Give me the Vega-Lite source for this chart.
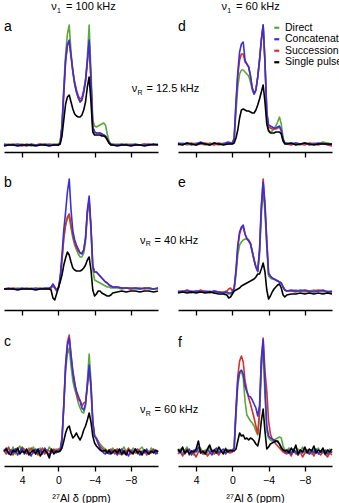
{
  "$schema": "https://vega.github.io/schema/vega-lite/v6.json",
  "padding": {"left": 3, "top": 1, "right": 0, "bottom": 0},
  "config": {
    "font": "Liberation Sans",
    "view": {"stroke": null},
    "legend": {
      "orient": "none", "legendX": 267.5, "legendY": 2.5, "padding": 0,
      "symbolType": "stroke", "symbolSize": 25, "symbolStrokeWidth": 2.2,
      "labelFontSize": 10.5, "labelColor": "#000", "labelOffset": 3, "rowPadding": 0.5
    }
  },
  "data": {"values": [
    {"p":"a","ppm":6,"D":7,"C":8,"S":7,"P":6},{"p":"a","ppm":5.5,"D":8,"C":7,"S":7,"P":7},{"p":"a","ppm":5,"D":7,"C":7,"S":8,"P":7},{"p":"a","ppm":4.5,"D":7,"C":8,"S":7,"P":6},{"p":"a","ppm":4,"D":8,"C":7,"S":6,"P":7},{"p":"a","ppm":3.5,"D":7,"C":6,"S":8,"P":7},{"p":"a","ppm":3,"D":6,"C":8,"S":7,"P":7},{"p":"a","ppm":2.5,"D":7,"C":7,"S":7,"P":6},{"p":"a","ppm":2,"D":8,"C":7,"S":8,"P":7},{"p":"a","ppm":1.5,"D":7,"C":8,"S":7,"P":7},{"p":"a","ppm":1,"D":7,"C":7,"S":8,"P":6},{"p":"a","ppm":0.5,"D":8,"C":7,"S":7,"P":7},
    {"p":"a","ppm":0,"D":8,"C":7,"S":7,"P":7},{"p":"a","ppm":-0.2,"D":10,"C":9,"S":9,"P":8},{"p":"a","ppm":-0.4,"D":28,"C":25,"S":25,"P":16},{"p":"a","ppm":-0.6,"D":65,"C":60,"S":58,"P":32},{"p":"a","ppm":-0.8,"D":98,"C":92,"S":90,"P":48},{"p":"a","ppm":-1,"D":118,"C":108,"S":106,"P":55},{"p":"a","ppm":-1.2,"D":127,"C":112,"S":110,"P":57},{"p":"a","ppm":-1.4,"D":100,"C":96,"S":96,"P":50},{"p":"a","ppm":-1.6,"D":80,"C":80,"S":82,"P":43},{"p":"a","ppm":-1.8,"D":68,"C":68,"S":70,"P":38},{"p":"a","ppm":-2,"D":60,"C":60,"S":62,"P":36},{"p":"a","ppm":-2.2,"D":54,"C":54,"S":56,"P":35},{"p":"a","ppm":-2.4,"D":50,"C":50,"S":53,"P":35},{"p":"a","ppm":-2.6,"D":52,"C":52,"S":54,"P":37},{"p":"a","ppm":-2.8,"D":60,"C":60,"S":62,"P":42},{"p":"a","ppm":-3,"D":72,"C":70,"S":72,"P":50},{"p":"a","ppm":-3.2,"D":95,"C":90,"S":90,"P":65},{"p":"a","ppm":-3.4,"D":127,"C":112,"S":110,"P":75},{"p":"a","ppm":-3.6,"D":80,"C":72,"S":72,"P":50},{"p":"a","ppm":-3.8,"D":32,"C":25,"S":25,"P":20},{"p":"a","ppm":-4,"D":26,"C":20,"S":20,"P":17},{"p":"a","ppm":-4.2,"D":25,"C":19,"S":19,"P":17},{"p":"a","ppm":-4.4,"D":26,"C":19,"S":19,"P":17},{"p":"a","ppm":-4.6,"D":27,"C":19,"S":19,"P":17},{"p":"a","ppm":-4.8,"D":28,"C":18,"S":18,"P":16},{"p":"a","ppm":-5,"D":29,"C":17,"S":17,"P":16},{"p":"a","ppm":-5.2,"D":27,"C":16,"S":16,"P":15},{"p":"a","ppm":-5.4,"D":18,"C":13,"S":13,"P":12},{"p":"a","ppm":-5.6,"D":11,"C":9,"S":9,"P":9},{"p":"a","ppm":-5.8,"D":8,"C":8,"S":7,"P":7},
    {"p":"a","ppm":-6,"D":7,"C":7,"S":8,"P":7},{"p":"a","ppm":-6.5,"D":8,"C":7,"S":7,"P":6},{"p":"a","ppm":-7,"D":7,"C":8,"S":7,"P":7},{"p":"a","ppm":-7.5,"D":7,"C":7,"S":8,"P":7},{"p":"a","ppm":-8,"D":8,"C":7,"S":7,"P":6},{"p":"a","ppm":-8.5,"D":7,"C":8,"S":7,"P":7},{"p":"a","ppm":-9,"D":7,"C":7,"S":7,"P":7},{"p":"a","ppm":-9.5,"D":8,"C":7,"S":8,"P":6},{"p":"a","ppm":-10,"D":7,"C":8,"S":7,"P":7},{"p":"a","ppm":-10.5,"D":7,"C":7,"S":7,"P":8},{"p":"a","ppm":-11,"D":7,"C":8,"S":7,"P":7},

    {"p":"d","ppm":6,"D":8,"C":9,"S":7,"P":8},{"p":"d","ppm":5.5,"D":9,"C":8,"S":8,"P":7},{"p":"d","ppm":5,"D":7,"C":9,"S":8,"P":9},{"p":"d","ppm":4.5,"D":8,"C":7,"S":9,"P":8},{"p":"d","ppm":4,"D":9,"C":8,"S":7,"P":7},{"p":"d","ppm":3.5,"D":8,"C":10,"S":8,"P":9},{"p":"d","ppm":3,"D":7,"C":8,"S":9,"P":8},{"p":"d","ppm":2.5,"D":9,"C":7,"S":8,"P":7},{"p":"d","ppm":2,"D":8,"C":9,"S":7,"P":9},{"p":"d","ppm":1.5,"D":7,"C":8,"S":9,"P":8},{"p":"d","ppm":1,"D":9,"C":8,"S":8,"P":7},{"p":"d","ppm":0.5,"D":8,"C":10,"S":9,"P":8},
    {"p":"d","ppm":0,"D":8,"C":9,"S":9,"P":8},{"p":"d","ppm":-0.2,"D":12,"C":14,"S":13,"P":9},{"p":"d","ppm":-0.4,"D":40,"C":50,"S":48,"P":14},{"p":"d","ppm":-0.6,"D":65,"C":80,"S":76,"P":22},{"p":"d","ppm":-0.8,"D":78,"C":100,"S":92,"P":34},{"p":"d","ppm":-1,"D":82,"C":108,"S":98,"P":42},{"p":"d","ppm":-1.2,"D":82,"C":110,"S":98,"P":43},{"p":"d","ppm":-1.4,"D":80,"C":92,"S":90,"P":42},{"p":"d","ppm":-1.6,"D":78,"C":88,"S":88,"P":41},{"p":"d","ppm":-1.8,"D":76,"C":85,"S":85,"P":41},{"p":"d","ppm":-2,"D":70,"C":76,"S":76,"P":40},{"p":"d","ppm":-2.2,"D":62,"C":64,"S":64,"P":39},{"p":"d","ppm":-2.4,"D":58,"C":58,"S":58,"P":39},{"p":"d","ppm":-2.6,"D":62,"C":62,"S":62,"P":42},{"p":"d","ppm":-2.8,"D":75,"C":75,"S":75,"P":47},{"p":"d","ppm":-3,"D":92,"C":92,"S":92,"P":53},{"p":"d","ppm":-3.2,"D":112,"C":112,"S":112,"P":60},{"p":"d","ppm":-3.4,"D":127,"C":127,"S":127,"P":67},{"p":"d","ppm":-3.6,"D":90,"C":90,"S":90,"P":50},{"p":"d","ppm":-3.8,"D":40,"C":40,"S":40,"P":28},{"p":"d","ppm":-4,"D":22,"C":27,"S":25,"P":21},{"p":"d","ppm":-4.2,"D":20,"C":26,"S":24,"P":19},{"p":"d","ppm":-4.4,"D":21,"C":25,"S":23,"P":19},{"p":"d","ppm":-4.6,"D":23,"C":24,"S":23,"P":19},{"p":"d","ppm":-4.8,"D":26,"C":24,"S":23,"P":20},{"p":"d","ppm":-5,"D":30,"C":25,"S":24,"P":20},{"p":"d","ppm":-5.2,"D":35,"C":26,"S":25,"P":20},{"p":"d","ppm":-5.4,"D":28,"C":22,"S":21,"P":18},{"p":"d","ppm":-5.6,"D":14,"C":12,"S":12,"P":11},{"p":"d","ppm":-5.8,"D":9,"C":9,"S":9,"P":8},
    {"p":"d","ppm":-6,"D":8,"C":9,"S":8,"P":8},{"p":"d","ppm":-6.5,"D":9,"C":8,"S":7,"P":9},{"p":"d","ppm":-7,"D":8,"C":9,"S":9,"P":7},{"p":"d","ppm":-7.5,"D":7,"C":8,"S":8,"P":8},{"p":"d","ppm":-8,"D":9,"C":9,"S":7,"P":9},{"p":"d","ppm":-8.5,"D":8,"C":7,"S":9,"P":8},{"p":"d","ppm":-9,"D":9,"C":8,"S":8,"P":7},{"p":"d","ppm":-9.5,"D":8,"C":9,"S":7,"P":8},{"p":"d","ppm":-10,"D":10,"C":8,"S":9,"P":8},{"p":"d","ppm":-10.5,"D":9,"C":8,"S":7,"P":8},{"p":"d","ppm":-11,"D":8,"C":7,"S":6,"P":8},

    {"p":"b","ppm":6,"D":21,"C":21,"S":21,"P":21},{"p":"b","ppm":5.5,"D":21,"C":22,"S":21,"P":21},{"p":"b","ppm":5,"D":21,"C":21,"S":22,"P":21},{"p":"b","ppm":4.5,"D":22,"C":21,"S":21,"P":20},{"p":"b","ppm":4,"D":21,"C":22,"S":21,"P":21},{"p":"b","ppm":3.5,"D":21,"C":21,"S":22,"P":21},{"p":"b","ppm":3,"D":22,"C":21,"S":21,"P":21},{"p":"b","ppm":2.5,"D":21,"C":22,"S":21,"P":20},{"p":"b","ppm":2,"D":21,"C":21,"S":22,"P":21},{"p":"b","ppm":1.5,"D":21,"C":22,"S":21,"P":21},{"p":"b","ppm":1,"D":21,"C":22,"S":21,"P":21},{"p":"b","ppm":0.8,"D":22,"C":23,"S":22,"P":20},{"p":"b","ppm":0.6,"D":24,"C":26,"S":25,"P":12},{"p":"b","ppm":0.4,"D":22,"C":23,"S":22,"P":10},{"p":"b","ppm":0.2,"D":19,"C":20,"S":20,"P":16},
    {"p":"b","ppm":0,"D":22,"C":22,"S":22,"P":22},{"p":"b","ppm":-0.2,"D":30,"C":33,"S":31,"P":28},{"p":"b","ppm":-0.4,"D":50,"C":55,"S":50,"P":35},{"p":"b","ppm":-0.6,"D":72,"C":80,"S":72,"P":45},{"p":"b","ppm":-0.8,"D":85,"C":98,"S":85,"P":52},{"p":"b","ppm":-1,"D":92,"C":118,"S":93,"P":58},{"p":"b","ppm":-1.2,"D":93,"C":131,"S":96,"P":55},{"p":"b","ppm":-1.4,"D":82,"C":100,"S":85,"P":48},{"p":"b","ppm":-1.6,"D":72,"C":79,"S":75,"P":42},{"p":"b","ppm":-1.8,"D":65,"C":70,"S":67,"P":40},{"p":"b","ppm":-2,"D":60,"C":65,"S":62,"P":39},{"p":"b","ppm":-2.2,"D":56,"C":61,"S":59,"P":39},{"p":"b","ppm":-2.4,"D":53,"C":57,"S":57,"P":39},{"p":"b","ppm":-2.6,"D":53,"C":56,"S":57,"P":40},{"p":"b","ppm":-2.8,"D":57,"C":60,"S":60,"P":42},{"p":"b","ppm":-3,"D":68,"C":72,"S":72,"P":45},{"p":"b","ppm":-3.2,"D":95,"C":100,"S":98,"P":50},{"p":"b","ppm":-3.4,"D":108,"C":114,"S":110,"P":53},{"p":"b","ppm":-3.6,"D":80,"C":84,"S":82,"P":40},{"p":"b","ppm":-3.8,"D":40,"C":44,"S":44,"P":20},{"p":"b","ppm":-4,"D":30,"C":38,"S":38,"P":14},{"p":"b","ppm":-4.2,"D":29,"C":38,"S":38,"P":16},{"p":"b","ppm":-4.4,"D":28,"C":36,"S":36,"P":19},{"p":"b","ppm":-4.6,"D":27,"C":34,"S":34,"P":19},{"p":"b","ppm":-4.8,"D":26,"C":32,"S":32,"P":17},{"p":"b","ppm":-5,"D":25,"C":30,"S":30,"P":16},{"p":"b","ppm":-5.2,"D":24,"C":28,"S":28,"P":15},{"p":"b","ppm":-5.4,"D":23,"C":27,"S":27,"P":14},{"p":"b","ppm":-5.6,"D":23,"C":25,"S":25,"P":14},{"p":"b","ppm":-5.8,"D":22,"C":24,"S":24,"P":15},
    {"p":"b","ppm":-6,"D":22,"C":23,"S":23,"P":17},{"p":"b","ppm":-6.5,"D":22,"C":23,"S":23,"P":18},{"p":"b","ppm":-7,"D":21,"C":22,"S":22,"P":19},{"p":"b","ppm":-7.5,"D":22,"C":22,"S":22,"P":18},{"p":"b","ppm":-8,"D":21,"C":22,"S":21,"P":19},{"p":"b","ppm":-8.5,"D":21,"C":22,"S":22,"P":19},{"p":"b","ppm":-9,"D":21,"C":21,"S":22,"P":18},{"p":"b","ppm":-9.5,"D":22,"C":22,"S":21,"P":19},{"p":"b","ppm":-10,"D":21,"C":22,"S":22,"P":19},{"p":"b","ppm":-10.5,"D":21,"C":21,"S":21,"P":18},{"p":"b","ppm":-11,"D":21,"C":22,"S":22,"P":19},

    {"p":"e","ppm":6,"D":18,"C":19,"S":18,"P":17},{"p":"e","ppm":5.5,"D":19,"C":18,"S":19,"P":18},{"p":"e","ppm":5,"D":18,"C":20,"S":18,"P":17},{"p":"e","ppm":4.5,"D":17,"C":18,"S":19,"P":18},{"p":"e","ppm":4,"D":19,"C":19,"S":18,"P":17},{"p":"e","ppm":3.5,"D":18,"C":18,"S":20,"P":18},{"p":"e","ppm":3,"D":18,"C":19,"S":18,"P":17},{"p":"e","ppm":2.5,"D":19,"C":18,"S":17,"P":18},{"p":"e","ppm":2,"D":17,"C":19,"S":19,"P":17},{"p":"e","ppm":1.5,"D":18,"C":18,"S":18,"P":16},{"p":"e","ppm":1,"D":17,"C":17,"S":18,"P":16},{"p":"e","ppm":0.6,"D":17,"C":18,"S":19,"P":15},{"p":"e","ppm":0.4,"D":16,"C":17,"S":21,"P":12},{"p":"e","ppm":0.2,"D":16,"C":17,"S":22,"P":13},
    {"p":"e","ppm":0,"D":17,"C":18,"S":19,"P":16},{"p":"e","ppm":-0.2,"D":20,"C":22,"S":22,"P":19},{"p":"e","ppm":-0.4,"D":35,"C":40,"S":38,"P":20},{"p":"e","ppm":-0.6,"D":55,"C":65,"S":62,"P":21},{"p":"e","ppm":-0.8,"D":65,"C":78,"S":76,"P":22},{"p":"e","ppm":-1,"D":68,"C":83,"S":82,"P":24},{"p":"e","ppm":-1.2,"D":70,"C":85,"S":83,"P":25},{"p":"e","ppm":-1.4,"D":71,"C":76,"S":76,"P":26},{"p":"e","ppm":-1.6,"D":71,"C":71,"S":72,"P":27},{"p":"e","ppm":-1.8,"D":70,"C":69,"S":70,"P":28},{"p":"e","ppm":-2,"D":66,"C":66,"S":67,"P":29},{"p":"e","ppm":-2.2,"D":58,"C":58,"S":59,"P":30},{"p":"e","ppm":-2.4,"D":50,"C":50,"S":50,"P":31},{"p":"e","ppm":-2.6,"D":43,"C":43,"S":43,"P":33},{"p":"e","ppm":-2.8,"D":38,"C":39,"S":39,"P":36},{"p":"e","ppm":-3,"D":55,"C":60,"S":60,"P":36},{"p":"e","ppm":-3.2,"D":95,"C":102,"S":105,"P":41},{"p":"e","ppm":-3.4,"D":120,"C":128,"S":131,"P":47},{"p":"e","ppm":-3.6,"D":98,"C":104,"S":107,"P":38},{"p":"e","ppm":-3.8,"D":62,"C":68,"S":70,"P":20},{"p":"e","ppm":-4,"D":34,"C":36,"S":37,"P":11},{"p":"e","ppm":-4.2,"D":32,"C":34,"S":34,"P":14},{"p":"e","ppm":-4.4,"D":31,"C":32,"S":32,"P":18},{"p":"e","ppm":-4.6,"D":31,"C":31,"S":31,"P":21},{"p":"e","ppm":-4.8,"D":30,"C":30,"S":30,"P":23},{"p":"e","ppm":-5,"D":29,"C":29,"S":29,"P":25},{"p":"e","ppm":-5.2,"D":28,"C":28,"S":28,"P":26},{"p":"e","ppm":-5.4,"D":27,"C":27,"S":27,"P":22},{"p":"e","ppm":-5.6,"D":23,"C":23,"S":23,"P":15},{"p":"e","ppm":-5.8,"D":20,"C":20,"S":20,"P":13},
    {"p":"e","ppm":-6,"D":19,"C":19,"S":19,"P":15},{"p":"e","ppm":-6.5,"D":19,"C":20,"S":19,"P":16},{"p":"e","ppm":-7,"D":20,"C":19,"S":18,"P":16},{"p":"e","ppm":-7.5,"D":19,"C":19,"S":20,"P":17},{"p":"e","ppm":-8,"D":18,"C":20,"S":19,"P":16},{"p":"e","ppm":-8.5,"D":19,"C":19,"S":18,"P":17},{"p":"e","ppm":-9,"D":20,"C":18,"S":19,"P":16},{"p":"e","ppm":-9.5,"D":19,"C":19,"S":20,"P":17},{"p":"e","ppm":-10,"D":18,"C":20,"S":19,"P":16},{"p":"e","ppm":-10.5,"D":19,"C":18,"S":18,"P":17},{"p":"e","ppm":-11,"D":18,"C":19,"S":17,"P":16},

    {"p":"c","ppm":6,"D":17,"C":14,"S":16,"P":15},{"p":"c","ppm":5.75,"D":13,"C":18,"S":12,"P":17},{"p":"c","ppm":5.5,"D":18,"C":12,"S":19,"P":13},{"p":"c","ppm":5.25,"D":14,"C":16,"S":14,"P":11},{"p":"c","ppm":5,"D":19,"C":13,"S":11,"P":16},{"p":"c","ppm":4.75,"D":12,"C":17,"S":17,"P":14},{"p":"c","ppm":4.5,"D":16,"C":11,"S":15,"P":18},{"p":"c","ppm":4.25,"D":20,"C":15,"S":13,"P":12},{"p":"c","ppm":4,"D":14,"C":18,"S":19,"P":15},{"p":"c","ppm":3.75,"D":17,"C":12,"S":16,"P":13},{"p":"c","ppm":3.5,"D":13,"C":16,"S":12,"P":17},{"p":"c","ppm":3.25,"D":18,"C":14,"S":15,"P":11},{"p":"c","ppm":3,"D":15,"C":10,"S":18,"P":14},{"p":"c","ppm":2.75,"D":19,"C":15,"S":13,"P":16},{"p":"c","ppm":2.5,"D":12,"C":17,"S":16,"P":12},{"p":"c","ppm":2.25,"D":16,"C":13,"S":11,"P":17},{"p":"c","ppm":2,"D":18,"C":16,"S":14,"P":10},{"p":"c","ppm":1.75,"D":13,"C":12,"S":18,"P":14},{"p":"c","ppm":1.5,"D":17,"C":18,"S":12,"P":16},{"p":"c","ppm":1.25,"D":14,"C":14,"S":16,"P":13},{"p":"c","ppm":1,"D":19,"C":11,"S":15,"P":8},{"p":"c","ppm":0.75,"D":15,"C":16,"S":13,"P":17},{"p":"c","ppm":0.5,"D":13,"C":15,"S":17,"P":12},{"p":"c","ppm":0.25,"D":17,"C":13,"S":14,"P":15},
    {"p":"c","ppm":0,"D":16,"C":15,"S":17,"P":14},{"p":"c","ppm":-0.2,"D":17,"C":16,"S":16,"P":15},{"p":"c","ppm":-0.4,"D":28,"C":25,"S":27,"P":18},{"p":"c","ppm":-0.6,"D":60,"C":60,"S":62,"P":25},{"p":"c","ppm":-0.8,"D":95,"C":100,"S":102,"P":33},{"p":"c","ppm":-1,"D":112,"C":120,"S":124,"P":38},{"p":"c","ppm":-1.2,"D":118,"C":128,"S":131,"P":40},{"p":"c","ppm":-1.4,"D":100,"C":110,"S":112,"P":33},{"p":"c","ppm":-1.6,"D":85,"C":93,"S":95,"P":28},{"p":"c","ppm":-1.8,"D":77,"C":82,"S":84,"P":30},{"p":"c","ppm":-2,"D":71,"C":75,"S":72,"P":33},{"p":"c","ppm":-2.2,"D":63,"C":70,"S":66,"P":29},{"p":"c","ppm":-2.4,"D":58,"C":65,"S":66,"P":26},{"p":"c","ppm":-2.6,"D":54,"C":58,"S":60,"P":30},{"p":"c","ppm":-2.8,"D":53,"C":56,"S":63,"P":36},{"p":"c","ppm":-3,"D":60,"C":62,"S":64,"P":40},{"p":"c","ppm":-3.2,"D":85,"C":80,"S":80,"P":46},{"p":"c","ppm":-3.4,"D":112,"C":101,"S":98,"P":53},{"p":"c","ppm":-3.6,"D":85,"C":80,"S":78,"P":44},{"p":"c","ppm":-3.8,"D":45,"C":45,"S":42,"P":30},{"p":"c","ppm":-4,"D":30,"C":30,"S":30,"P":23},{"p":"c","ppm":-4.2,"D":28,"C":27,"S":28,"P":20},{"p":"c","ppm":-4.4,"D":25,"C":22,"S":24,"P":18},{"p":"c","ppm":-4.6,"D":22,"C":18,"S":20,"P":16},{"p":"c","ppm":-4.8,"D":20,"C":15,"S":18,"P":15},{"p":"c","ppm":-5,"D":18,"C":13,"S":16,"P":15},{"p":"c","ppm":-5.2,"D":17,"C":12,"S":14,"P":16},{"p":"c","ppm":-5.4,"D":15,"C":14,"S":13,"P":13},{"p":"c","ppm":-5.6,"D":16,"C":12,"S":15,"P":16},{"p":"c","ppm":-5.8,"D":14,"C":15,"S":17,"P":12},
    {"p":"c","ppm":-6,"D":18,"C":13,"S":15,"P":14},{"p":"c","ppm":-6.25,"D":14,"C":16,"S":12,"P":16},{"p":"c","ppm":-6.5,"D":17,"C":11,"S":17,"P":13},{"p":"c","ppm":-6.75,"D":12,"C":15,"S":13,"P":17},{"p":"c","ppm":-7,"D":16,"C":17,"S":11,"P":12},{"p":"c","ppm":-7.25,"D":19,"C":12,"S":16,"P":15},{"p":"c","ppm":-7.5,"D":14,"C":14,"S":14,"P":11},{"p":"c","ppm":-7.75,"D":17,"C":10,"S":18,"P":16},{"p":"c","ppm":-8,"D":13,"C":16,"S":12,"P":14},{"p":"c","ppm":-8.25,"D":18,"C":13,"S":15,"P":12},{"p":"c","ppm":-8.5,"D":15,"C":17,"S":13,"P":17},{"p":"c","ppm":-8.75,"D":12,"C":14,"S":17,"P":13},{"p":"c","ppm":-9,"D":17,"C":11,"S":14,"P":15},{"p":"c","ppm":-9.25,"D":19,"C":15,"S":12,"P":11},{"p":"c","ppm":-9.5,"D":14,"C":13,"S":16,"P":16},{"p":"c","ppm":-9.75,"D":16,"C":17,"S":11,"P":14},{"p":"c","ppm":-10,"D":12,"C":12,"S":15,"P":12},{"p":"c","ppm":-10.25,"D":18,"C":14,"S":13,"P":15},{"p":"c","ppm":-10.5,"D":15,"C":16,"S":17,"P":13},{"p":"c","ppm":-10.75,"D":13,"C":12,"S":14,"P":16},{"p":"c","ppm":-11,"D":16,"C":15,"S":12,"P":14},

    {"p":"f","ppm":6,"D":14,"C":16,"S":12,"P":17},{"p":"f","ppm":5.75,"D":17,"C":13,"S":15,"P":14},{"p":"f","ppm":5.5,"D":12,"C":18,"S":10,"P":19},{"p":"f","ppm":5.25,"D":16,"C":12,"S":14,"P":13},{"p":"f","ppm":5,"D":19,"C":15,"S":17,"P":16},{"p":"f","ppm":4.75,"D":13,"C":17,"S":11,"P":12},{"p":"f","ppm":4.5,"D":15,"C":11,"S":15,"P":15},{"p":"f","ppm":4.25,"D":11,"C":16,"S":13,"P":14},{"p":"f","ppm":4,"D":17,"C":14,"S":9,"P":17},{"p":"f","ppm":3.75,"D":14,"C":19,"S":14,"P":25},{"p":"f","ppm":3.5,"D":18,"C":13,"S":16,"P":13},{"p":"f","ppm":3.25,"D":12,"C":15,"S":12,"P":15},{"p":"f","ppm":3,"D":16,"C":12,"S":15,"P":12},{"p":"f","ppm":2.75,"D":13,"C":17,"S":10,"P":17},{"p":"f","ppm":2.5,"D":19,"C":14,"S":13,"P":21},{"p":"f","ppm":2.25,"D":15,"C":11,"S":16,"P":14},{"p":"f","ppm":2,"D":12,"C":16,"S":12,"P":16},{"p":"f","ppm":1.75,"D":17,"C":18,"S":14,"P":13},{"p":"f","ppm":1.5,"D":14,"C":13,"S":11,"P":19},{"p":"f","ppm":1.25,"D":16,"C":15,"S":15,"P":15},{"p":"f","ppm":1,"D":13,"C":17,"S":13,"P":12},{"p":"f","ppm":0.75,"D":18,"C":12,"S":16,"P":17},{"p":"f","ppm":0.5,"D":15,"C":16,"S":14,"P":14},{"p":"f","ppm":0.25,"D":14,"C":15,"S":13,"P":16},
    {"p":"f","ppm":0,"D":15,"C":16,"S":14,"P":15},{"p":"f","ppm":-0.2,"D":18,"C":18,"S":18,"P":15},{"p":"f","ppm":-0.4,"D":50,"C":55,"S":58,"P":17},{"p":"f","ppm":-0.6,"D":80,"C":85,"S":90,"P":25},{"p":"f","ppm":-0.8,"D":92,"C":94,"S":105,"P":33},{"p":"f","ppm":-1,"D":95,"C":96,"S":110,"P":30},{"p":"f","ppm":-1.2,"D":88,"C":92,"S":104,"P":31},{"p":"f","ppm":-1.4,"D":65,"C":80,"S":85,"P":27},{"p":"f","ppm":-1.6,"D":51,"C":74,"S":76,"P":28},{"p":"f","ppm":-1.8,"D":48,"C":70,"S":68,"P":26},{"p":"f","ppm":-2,"D":45,"C":69,"S":62,"P":28},{"p":"f","ppm":-2.2,"D":43,"C":66,"S":55,"P":27},{"p":"f","ppm":-2.4,"D":40,"C":62,"S":48,"P":25},{"p":"f","ppm":-2.6,"D":35,"C":58,"S":40,"P":22},{"p":"f","ppm":-2.8,"D":31,"C":50,"S":32,"P":20},{"p":"f","ppm":-3,"D":50,"C":60,"S":55,"P":28},{"p":"f","ppm":-3.2,"D":95,"C":105,"S":108,"P":45},{"p":"f","ppm":-3.4,"D":118,"C":126,"S":128,"P":57},{"p":"f","ppm":-3.6,"D":70,"C":80,"S":95,"P":35},{"p":"f","ppm":-3.8,"D":35,"C":40,"S":75,"P":17},{"p":"f","ppm":-4,"D":28,"C":30,"S":45,"P":19},{"p":"f","ppm":-4.2,"D":26,"C":28,"S":32,"P":22},{"p":"f","ppm":-4.4,"D":25,"C":27,"S":27,"P":23},{"p":"f","ppm":-4.6,"D":26,"C":26,"S":25,"P":24},{"p":"f","ppm":-4.8,"D":27,"C":25,"S":22,"P":25},{"p":"f","ppm":-5,"D":28,"C":24,"S":20,"P":25},{"p":"f","ppm":-5.2,"D":29,"C":22,"S":18,"P":22},{"p":"f","ppm":-5.4,"D":28,"C":19,"S":16,"P":18},{"p":"f","ppm":-5.6,"D":20,"C":16,"S":14,"P":16},{"p":"f","ppm":-5.8,"D":16,"C":15,"S":13,"P":15},
    {"p":"f","ppm":-6,"D":15,"C":13,"S":12,"P":16},{"p":"f","ppm":-6.25,"D":18,"C":16,"S":14,"P":13},{"p":"f","ppm":-6.5,"D":13,"C":12,"S":10,"P":18},{"p":"f","ppm":-6.75,"D":16,"C":17,"S":15,"P":14},{"p":"f","ppm":-7,"D":12,"C":14,"S":13,"P":21},{"p":"f","ppm":-7.25,"D":17,"C":11,"S":11,"P":12},{"p":"f","ppm":-7.5,"D":14,"C":16,"S":14,"P":16},{"p":"f","ppm":-7.75,"D":19,"C":13,"S":9,"P":14},{"p":"f","ppm":-8,"D":13,"C":18,"S":13,"P":19},{"p":"f","ppm":-8.25,"D":16,"C":14,"S":16,"P":13},{"p":"f","ppm":-8.5,"D":15,"C":12,"S":12,"P":17},{"p":"f","ppm":-8.75,"D":12,"C":16,"S":14,"P":15},{"p":"f","ppm":-9,"D":17,"C":13,"S":10,"P":20},{"p":"f","ppm":-9.25,"D":14,"C":17,"S":15,"P":13},{"p":"f","ppm":-9.5,"D":18,"C":12,"S":13,"P":16},{"p":"f","ppm":-9.75,"D":13,"C":15,"S":11,"P":14},{"p":"f","ppm":-10,"D":16,"C":14,"S":14,"P":18},{"p":"f","ppm":-10.25,"D":11,"C":16,"S":12,"P":12},{"p":"f","ppm":-10.5,"D":15,"C":12,"S":9,"P":16},{"p":"f","ppm":-10.75,"D":17,"C":15,"S":13,"P":14},{"p":"f","ppm":-11,"D":14,"C":13,"S":11,"P":17},

    {"p":"a","ppm":6,"i":121,"letter":"a"},{"p":"b","ppm":6,"i":123,"letter":"b"},{"p":"c","ppm":6,"i":120,"letter":"c"},
    {"p":"d","ppm":6,"i":121,"letter":"d"},{"p":"e","ppm":6,"i":123,"letter":"e"},{"p":"f","ppm":6,"i":119,"letter":"f"},
    {"p":"a","ppm":0.78,"i":142,"note":"ν\u00a0\u00a0\u00a0= 100 kHz","sub":"1"},
    {"p":"d","ppm":1.21,"i":142,"note":"ν\u00a0\u00a0\u00a0= 60 kHz","sub":"1"},
    {"p":"a","ppm":-8.1,"i":60,"note":"ν\u00a0\u00a0\u00a0= 12.5 kHz","sub":"R"},
    {"p":"b","ppm":-9.0,"i":66.5,"note":"ν\u00a0\u00a0\u00a0= 40 kHz","sub":"R"},
    {"p":"c","ppm":-9.0,"i":53,"note":"ν\u00a0\u00a0\u00a0= 60 kHz","sub":"R"}
  ]},
  "spacing": 18,
  "resolve": {"scale": {"color": "shared"}, "legend": {"color": "shared"}},
  "vconcat": [
    {
      "transform": [{"filter": {"field": "p", "oneOf": ["a", "d"]}}],
      "facet": {"column": {"field": "p", "type": "nominal", "header": null}},
      "spacing": 20,
      "bounds": "flush",
      "spec": {
        "width": 154, "height": 132,
        "encoding": {"x": {"field": "ppm", "type": "quantitative", "scale": {"domain": [6, -11], "nice": false, "zero": false},
          "axis": {"values": [4, 0, -4, -8], "labels": false, "title": null, "grid": false, "domainColor": "#000", "domainWidth": 1.3, "tickColor": "#000", "tickWidth": 1.3, "tickSize": 5}}},
        "layer": [
          {"transform": [{"filter": "isValid(datum.D)"}, {"fold": ["D", "S", "C", "P"], "as": ["method", "intensity"]}],
           "mark": {"type": "line", "strokeWidth": 1.6, "strokeJoin": "round"},
           "encoding": {
             "y": {"field": "intensity", "type": "quantitative", "scale": {"domain": [0, 132], "nice": false, "zero": false}, "axis": null},
             "color": {"field": "method", "type": "nominal", "scale": {"domain": ["D", "C", "S", "P"], "range": ["#5aaa3a", "#3a30d8", "#d8302c", "#000000"]},
               "legend": {"title": null, "labelExpr": "datum.label == 'D' ? 'Direct' : datum.label == 'C' ? 'Concatenation' : datum.label == 'S' ? 'Succession' : 'Single pulse'"}}}},
          {"transform": [{"filter": "isValid(datum.letter)"}],
           "mark": {"type": "text", "align": "left", "baseline": "alphabetic", "fontSize": 14, "color": "#000"},
           "encoding": {"y": {"field": "i", "type": "quantitative", "scale": {"domain": [0, 132], "nice": false, "zero": false}, "axis": null}, "text": {"field": "letter"}}},
          {"transform": [{"filter": "isValid(datum.note)"}],
           "mark": {"type": "text", "align": "left", "baseline": "alphabetic", "fontSize": 11, "color": "#000"},
           "encoding": {"y": {"field": "i", "type": "quantitative", "scale": {"domain": [0, 132], "nice": false, "zero": false}, "axis": null}, "text": {"field": "note"}}},
          {"transform": [{"filter": "isValid(datum.sub)"}],
           "mark": {"type": "text", "align": "left", "baseline": "alphabetic", "fontSize": 7, "dx": 5.8, "dy": 2.5, "color": "#000"},
           "encoding": {"y": {"field": "i", "type": "quantitative", "scale": {"domain": [0, 132], "nice": false, "zero": false}, "axis": null}, "text": {"field": "sub"}}}
        ]
      }
    },
    {
      "transform": [{"filter": {"field": "p", "oneOf": ["b", "e"]}}],
      "facet": {"column": {"field": "p", "type": "nominal", "header": null}},
      "spacing": 20,
      "bounds": "flush",
      "spec": {
        "width": 154, "height": 132,
        "encoding": {"x": {"field": "ppm", "type": "quantitative", "scale": {"domain": [6, -11], "nice": false, "zero": false},
          "axis": {"values": [4, 0, -4, -8], "labels": false, "title": null, "grid": false, "domainColor": "#000", "domainWidth": 1.3, "tickColor": "#000", "tickWidth": 1.3, "tickSize": 5}}},
        "layer": [
          {"transform": [{"filter": "isValid(datum.D)"}, {"fold": ["D", "S", "C", "P"], "as": ["method", "intensity"]}],
           "mark": {"type": "line", "strokeWidth": 1.6, "strokeJoin": "round"},
           "encoding": {
             "y": {"field": "intensity", "type": "quantitative", "scale": {"domain": [0, 132], "nice": false, "zero": false}, "axis": null},
             "color": {"field": "method", "type": "nominal", "scale": {"domain": ["D", "C", "S", "P"], "range": ["#5aaa3a", "#3a30d8", "#d8302c", "#000000"]},
               "legend": {"title": null, "labelExpr": "datum.label == 'D' ? 'Direct' : datum.label == 'C' ? 'Concatenation' : datum.label == 'S' ? 'Succession' : 'Single pulse'"}}}},
          {"transform": [{"filter": "isValid(datum.letter)"}],
           "mark": {"type": "text", "align": "left", "baseline": "alphabetic", "fontSize": 14, "color": "#000"},
           "encoding": {"y": {"field": "i", "type": "quantitative", "scale": {"domain": [0, 132], "nice": false, "zero": false}, "axis": null}, "text": {"field": "letter"}}},
          {"transform": [{"filter": "isValid(datum.note)"}],
           "mark": {"type": "text", "align": "left", "baseline": "alphabetic", "fontSize": 11, "color": "#000"},
           "encoding": {"y": {"field": "i", "type": "quantitative", "scale": {"domain": [0, 132], "nice": false, "zero": false}, "axis": null}, "text": {"field": "note"}}},
          {"transform": [{"filter": "isValid(datum.sub)"}],
           "mark": {"type": "text", "align": "left", "baseline": "alphabetic", "fontSize": 7, "dx": 5.8, "dy": 2.5, "color": "#000"},
           "encoding": {"y": {"field": "i", "type": "quantitative", "scale": {"domain": [0, 132], "nice": false, "zero": false}, "axis": null}, "text": {"field": "sub"}}}
        ]
      }
    },
    {
      "transform": [{"filter": {"field": "p", "oneOf": ["c", "f"]}}],
      "facet": {"column": {"field": "p", "type": "nominal", "header": null}},
      "spacing": 20,
      "bounds": "flush",
      "spec": {
        "width": 154, "height": 132,
        "encoding": {"x": {"field": "ppm", "type": "quantitative", "scale": {"domain": [6, -11], "nice": false, "zero": false},
          "axis": {"values": [4, 0, -4, -8], "grid": false, "domainColor": "#000", "domainWidth": 1.3, "tickColor": "#000", "tickWidth": 1.3, "tickSize": 5,
            "labelFontSize": 10.5, "labelColor": "#000", "labelPadding": 4,
            "title": "²⁷Al δ (ppm)", "titleFontSize": 11, "titleFontWeight": "normal", "titleColor": "#000", "titlePadding": 7}}},
        "layer": [
          {"transform": [{"filter": "isValid(datum.D)"}, {"fold": ["D", "S", "C", "P"], "as": ["method", "intensity"]}],
           "mark": {"type": "line", "strokeWidth": 1.6, "strokeJoin": "round"},
           "encoding": {
             "y": {"field": "intensity", "type": "quantitative", "scale": {"domain": [0, 132], "nice": false, "zero": false}, "axis": null},
             "color": {"field": "method", "type": "nominal", "scale": {"domain": ["D", "C", "S", "P"], "range": ["#5aaa3a", "#3a30d8", "#d8302c", "#000000"]},
               "legend": {"title": null, "labelExpr": "datum.label == 'D' ? 'Direct' : datum.label == 'C' ? 'Concatenation' : datum.label == 'S' ? 'Succession' : 'Single pulse'"}}}},
          {"transform": [{"filter": "isValid(datum.letter)"}],
           "mark": {"type": "text", "align": "left", "baseline": "alphabetic", "fontSize": 14, "color": "#000"},
           "encoding": {"y": {"field": "i", "type": "quantitative", "scale": {"domain": [0, 132], "nice": false, "zero": false}, "axis": null}, "text": {"field": "letter"}}},
          {"transform": [{"filter": "isValid(datum.note)"}],
           "mark": {"type": "text", "align": "left", "baseline": "alphabetic", "fontSize": 11, "color": "#000"},
           "encoding": {"y": {"field": "i", "type": "quantitative", "scale": {"domain": [0, 132], "nice": false, "zero": false}, "axis": null}, "text": {"field": "note"}}},
          {"transform": [{"filter": "isValid(datum.sub)"}],
           "mark": {"type": "text", "align": "left", "baseline": "alphabetic", "fontSize": 7, "dx": 5.8, "dy": 2.5, "color": "#000"},
           "encoding": {"y": {"field": "i", "type": "quantitative", "scale": {"domain": [0, 132], "nice": false, "zero": false}, "axis": null}, "text": {"field": "sub"}}}
        ]
      }
    }
  ]
}
